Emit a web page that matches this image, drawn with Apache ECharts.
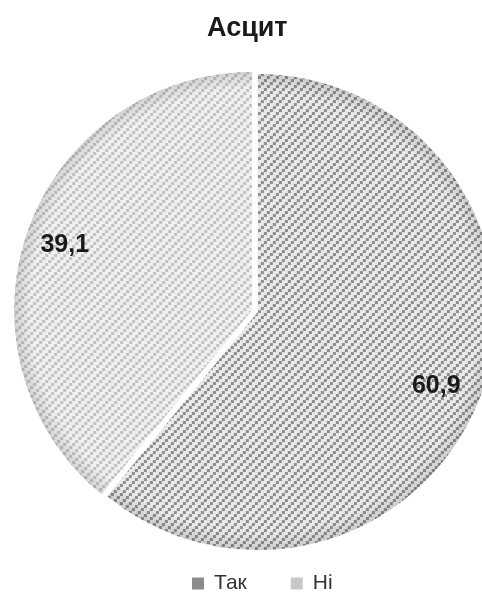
<!DOCTYPE html>
<html>
<head>
<meta charset="utf-8">
<script src="https://cdn.jsdelivr.net/npm/echarts@6/dist/echarts.min.js"></script>
<style>
html,body{margin:0;padding:0;background:#fff;}
#ascites-echarts{width:482px;height:594px;}
</style>
</head>
<body>
<div id="ascites-echarts"></div>
<script>
var categories = ['Так', 'Ні'];
var values = [60.9, 39.1];
var legendColors = ['#8c8c8c', '#c8c8c8'];

function makePattern(bg, fg){
	var c = document.createElement('canvas');
	c.width = 9;
	c.height = 9;
	var ctx = c.getContext('2d');
	ctx.fillStyle = bg;
	ctx.fillRect(0, 0, 9, 9);
	ctx.fillStyle = fg;
	for (var i = 0; i < 3; i++) {
		ctx.fillRect(i * 3, 6 - i * 3, 3, 3);
	}
	return c;
}

function ascitesEcharts(){
	var chart = echarts.init(document.getElementById('ascites-echarts'));
	var patterns = [makePattern('#e9e9e9', '#8d8d8d'), makePattern('#f0f0f0', '#c3c3c3')];

	var center = [255, 311];
	var radius = 238;
	var labelShift = [[-9, 7], [0, 2]];

	var pieData = categories.map(function (name, i) {
		return {
			name: name,
			value: values[i],
			selected: true,
			itemStyle: { color: { image: patterns[i], repeat: 'repeat' } }
		};
	});
	var shadeData = categories.map(function (name, i) {
		return { name: name, value: values[i], selected: true };
	});

	var option = {
		title: {
			text: 'Асцит',
			left: 202,
			top: 10,
			textStyle: { fontFamily: 'Liberation Sans', fontSize: 27, fontWeight: 'bold', color: '#1a1a1a' }
		},
		legend: {
			top: 568,
			left: 187,
			itemWidth: 12,
			itemHeight: 12,
			itemGap: 44,
			icon: 'rect',
			textStyle: { fontFamily: 'Liberation Sans', fontSize: 21, color: '#333', padding: [0, 0, 0, 5] },
			data: categories.map(function (name, i) {
				return { name: name, itemStyle: { color: legendColors[i] } };
			})
		},
		series: [
			{
				name: 'Асцит',
				type: 'pie',
				center: center,
				radius: radius,
				startAngle: 90,
				clockwise: true,
				selectedMode: 'multiple',
				selectedOffset: 3,
				animation: false,
				label: { show: false },
				labelLine: { show: false },
				emphasis: { disabled: true },
				data: pieData
			},
			{
				name: 'shade',
				type: 'pie',
				center: center,
				radius: [radius - 84, radius],
				startAngle: 90,
				clockwise: true,
				selectedMode: 'multiple',
				selectedOffset: 3,
				silent: true,
				animation: false,
				itemStyle: {
					color: {
						type: 'radial', x: center[0], y: center[1], r: radius, global: true,
						colorStops: [
							{ offset: 0, color: 'rgba(0,0,0,0)' },
							{ offset: 0.93, color: 'rgba(0,0,0,0)' },
							{ offset: 1, color: 'rgba(0,0,0,0.12)' }
						]
					}
				},
				label: {
					show: true,
					position: 'inside',
					fontFamily: 'Liberation Sans',
					fontSize: 25,
					fontWeight: 'bold',
					color: '#1a1a1a',
					formatter: function (p) { return String(p.value).replace('.', ','); }
				},
				labelLayout: function (p) {
					return { dx: labelShift[p.dataIndex][0], dy: labelShift[p.dataIndex][1] };
				},
				labelLine: { show: false },
				emphasis: { disabled: true },
				data: shadeData
			}
		]
	};

	chart.setOption(option);
}

ascitesEcharts();
</script>
</body>
</html>
